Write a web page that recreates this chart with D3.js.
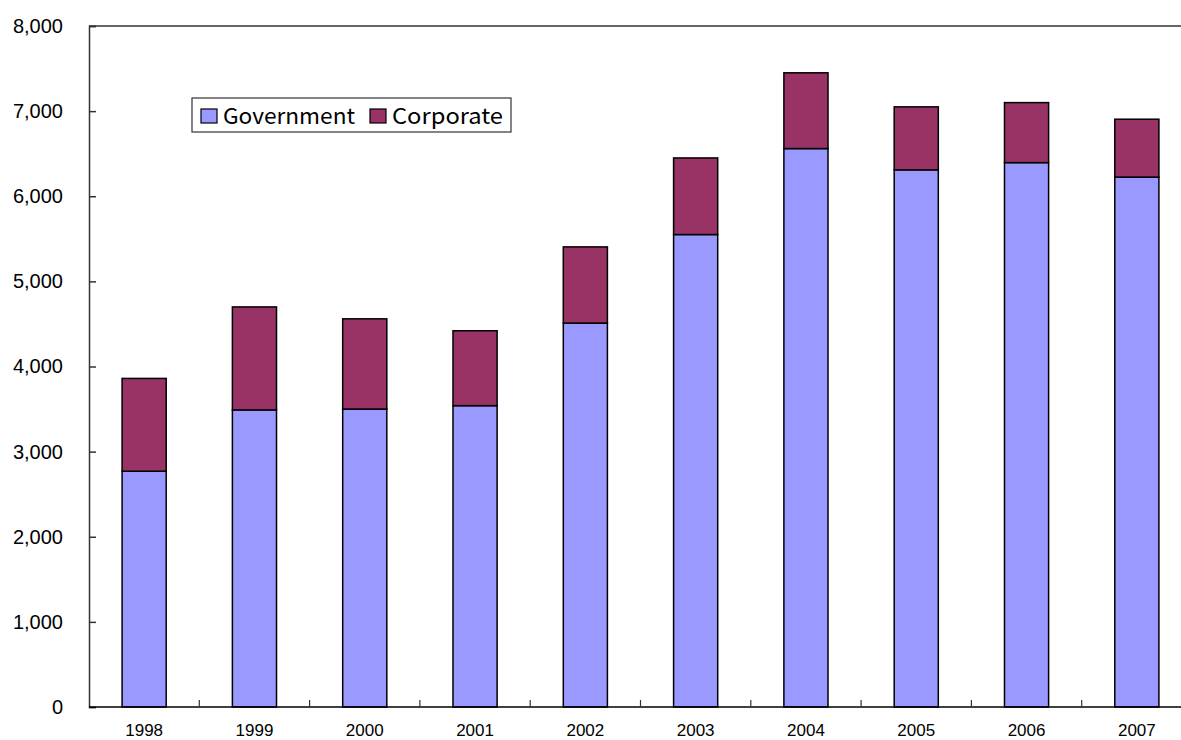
<!DOCTYPE html>
<html lang="en">
<head>
<meta charset="utf-8">
<script src="https://d3js.org/d3.v7.min.js"></script>
<style>
body { margin: 0; background: #fff; }
.axis text { font-family: Arial, "Liberation Sans", sans-serif; fill: #000; }
</style>
</head>
<body>
<script>
var years = ["1998", "1999", "2000", "2001", "2002", "2003", "2004", "2005", "2006", "2007"];
var government = [2770, 3490, 3500, 3540, 4510, 5550, 6560, 6310, 6395, 6225];
var corporate = [1090, 1210, 1060, 880, 895, 900, 890, 740, 705, 680];
var yTicks = [0, 1000, 2000, 3000, 4000, 5000, 6000, 7000, 8000];
var seriesNames = ["Government", "Corporate"];
var colors = ["#9999ff", "#993366"];

var margin = {top: 26, left: 89},
    width = 1103,
    plotH = 707 - margin.top;

var svg = d3.select("body").append("svg")
    .attr("width", 1181)
    .attr("height", 740);

var x = d3.scaleBand().domain(years).range([0, width]).paddingInner(0.6).paddingOuter(0.3);
var xb = d3.scaleBand().domain(years).range([0, width]);
var y = d3.scaleLinear().domain([0, 8000]).range([plotH, 0]);

var g = svg.append("g").attr("transform", "translate(" + margin.left + "," + margin.top + ")");

// plot area border (top)
g.append("line").attr("x1", 0).attr("x2", width).attr("y1", 0).attr("y2", 0)
  .attr("stroke", "#333").attr("stroke-width", 1.5);

var data = years.map(function(d, i) { return {year: d, Government: government[i], Corporate: corporate[i]}; });
var stack = d3.stack().keys(seriesNames)(data);

g.selectAll("g.layer").data(stack).enter().append("g")
  .attr("fill", function(d, i) { return colors[i]; })
  .selectAll("rect").data(function(d) { return d; }).enter().append("rect")
    .attr("x", function(d) { return x(d.data.year); })
    .attr("y", function(d) { return y(d[1]); })
    .attr("width", x.bandwidth())
    .attr("height", function(d) { return y(d[0]) - y(d[1]); })
    .attr("stroke", "#000")
    .attr("stroke-width", 1.5);

// y axis
var yAxis = g.append("g").attr("class", "axis")
  .call(d3.axisRight(y).tickValues(yTicks).tickFormat(d3.format(",")).tickSize(7));
yAxis.select(".domain").attr("stroke", "#333").attr("stroke-width", 1.5);
yAxis.selectAll(".tick line").attr("stroke", "#333").attr("stroke-width", 1.5);
yAxis.selectAll("text").attr("x", -26).attr("text-anchor", "end").style("font-size", "20px");

// x axis
var xAxis = g.append("g").attr("class", "axis").attr("transform", "translate(0," + plotH + ")");
xAxis.append("line").attr("x1", 0).attr("x2", width).attr("stroke", "#000").attr("stroke-width", 1.5);
xAxis.selectAll("line.tk").data(years.slice(1)).enter().append("line")
  .attr("class", "tk")
  .attr("x1", function(d) { return xb(d); }).attr("x2", function(d) { return xb(d); })
  .attr("y1", 0).attr("y2", -7).attr("stroke", "#333").attr("stroke-width", 1.2);
xAxis.selectAll("text").data(years).enter().append("text")
  .attr("x", function(d) { return x(d) + x.bandwidth() / 2; })
  .attr("y", 29)
  .attr("text-anchor", "middle")
  .style("font-size", "17px")
  .text(function(d) { return d; });

// legend
var legend = svg.append("g").attr("transform", "translate(192,98)");
legend.append("rect").attr("width", 319).attr("height", 34)
  .attr("fill", "#fff").attr("stroke", "#333").attr("stroke-width", 1.2);
var lx = [9, 178], lw = [132, 111];
seriesNames.forEach(function(name, i) {
  var row = legend.append("g").attr("transform", "translate(" + lx[i] + ",11)");
  row.append("rect").attr("width", 16).attr("height", 14)
    .attr("fill", colors[i]).attr("stroke", "#000").attr("stroke-width", 1.2);
  row.append("text").attr("x", 22).attr("y", 15)
    .style("font-family", "'Noto Sans CJK JP', Arial, sans-serif")
    .style("font-size", "22px")
    .attr("textLength", lw[i])
    .attr("lengthAdjust", "spacingAndGlyphs")
    .text(name);
});
</script>
</body>
</html>
